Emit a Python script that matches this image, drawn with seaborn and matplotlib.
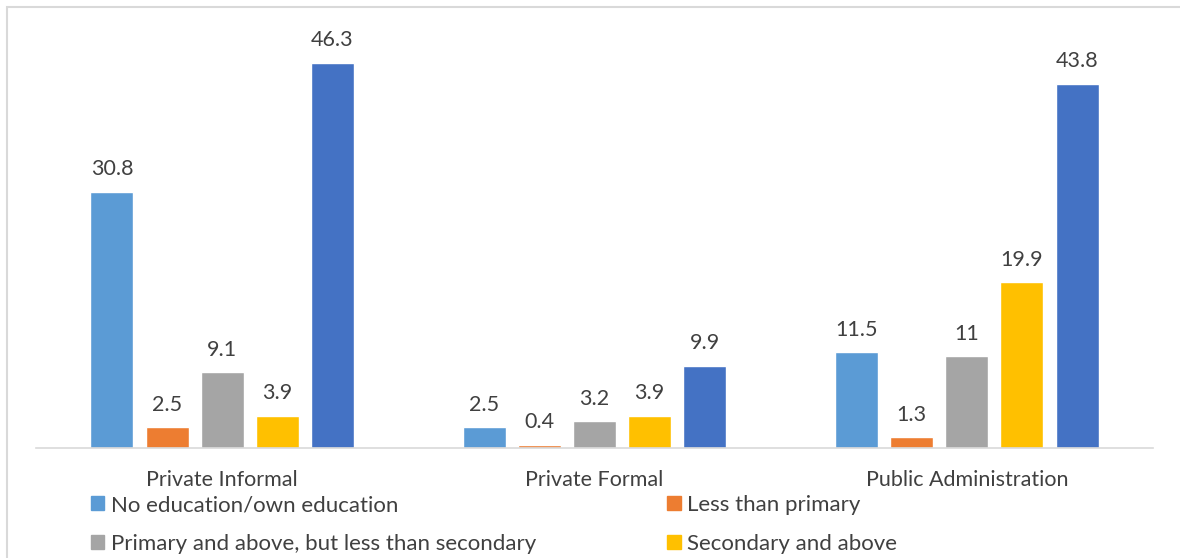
import matplotlib
matplotlib.use("Agg")
import matplotlib.pyplot as plt
import matplotlib.patches as mpatches
import seaborn as sns
import pandas as pd

categories = ["Private Informal", "Private Formal", "Public Administration"]
series = ["No education/own education", "Less than primary",
          "Primary and above, but less than secondary", "Secondary and above", "Total"]
no_education = [30.8, 2.5, 11.5]
less_than_primary = [2.5, 0.4, 1.3]
primary_above = [9.1, 3.2, 11]
secondary_above = [3.9, 3.9, 19.9]
total = [46.3, 9.9, 43.8]
value_labels = [["30.8", "2.5", "11.5"], ["2.5", "0.4", "1.3"], ["9.1", "3.2", "11"],
                ["3.9", "3.9", "19.9"], ["46.3", "9.9", "43.8"]]
colors = ["#5B9BD5", "#ED7D31", "#A5A5A5", "#FFC000", "#4472C4"]

values = [no_education, less_than_primary, primary_above, secondary_above, total]
rows = []
for s, vals in zip(series, values):
    for c, v in zip(categories, vals):
        rows.append({"category": c, "series": s, "value": v})
df = pd.DataFrame(rows)

sns.set_style("white")
FONT = ["Lato", "DejaVu Sans"]
plt.rcParams["font.family"] = FONT
TXT = "#404040"
FS = 15.5

fig = plt.figure(figsize=(11.8, 5.58), dpi=100)
ax = fig.add_axes([36/1180, 1 - 448/558, (1153-36)/1180, (448-32)/558])

sns.barplot(data=df, x="category", y="value", hue="series", order=categories,
            hue_order=series, palette=colors, width=0.74, gap=0.22,
            ax=ax, legend=False, saturation=1)

for i, cont in enumerate(ax.containers):
    for j, bar in enumerate(cont):
        ax.annotate(value_labels[i][j], (bar.get_x() + bar.get_width()/2, bar.get_height()),
                    xytext=(0, 9), textcoords="offset points", ha="center", va="bottom",
                    fontsize=FS, color=TXT)

ax.set_ylim(0, 50)
ax.set_xlim(-0.5, 2.5)
ax.set_xlabel("")
ax.set_ylabel("")
ax.set_yticks([])
for s in ["top", "right", "left"]:
    ax.spines[s].set_visible(False)
ax.spines["bottom"].set_color("#D9D9D9")
ax.spines["bottom"].set_linewidth(1.2)
ax.set_xticks([0, 1, 2])
ax.set_xticklabels(categories, fontsize=FS, color=TXT)
ax.set_xticks([-0.5, 0.5, 1.5, 2.5], minor=True)
ax.tick_params(axis="x", which="major", length=0, pad=16)
ax.tick_params(axis="x", which="minor", length=5, width=1.2, color="#D9D9D9", direction="out")

handles = [mpatches.Patch(color=c) for c in colors[:4]]
order = [0, 2, 1, 3]
leg = fig.legend([handles[k] for k in order], [series[k] for k in order], ncol=2,
                 loc="upper left", bbox_to_anchor=(91/1180, 1 - 495/558), frameon=False,
                 fontsize=16, handlelength=0.6, handleheight=0.6, handletextpad=0.3,
                 columnspacing=5.9, labelspacing=0.85, borderaxespad=0, borderpad=0)
for t in leg.get_texts():
    t.set_color(TXT)

border = mpatches.Rectangle((7/1180, -0.1), 1.2, 1 - 7/558 + 0.1, transform=fig.transFigure,
                            fill=False, edgecolor="#D9D9D9", linewidth=1.5)
fig.patches.append(border)

fig.savefig("out.png", dpi=100, facecolor="white")
